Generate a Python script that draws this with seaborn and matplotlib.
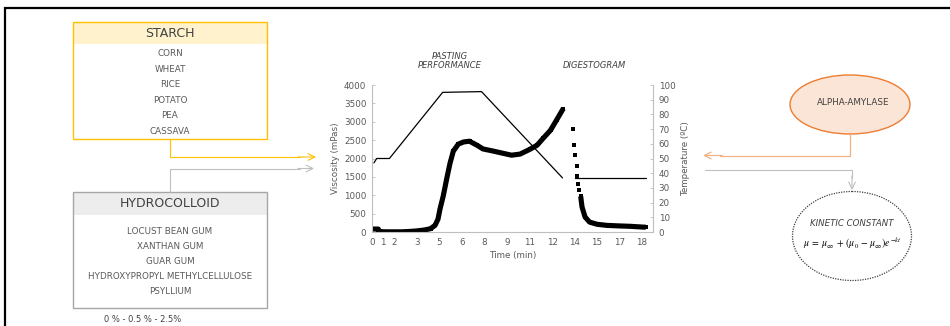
import matplotlib
matplotlib.use("Agg")
import matplotlib.pyplot as plt
from matplotlib.patches import Rectangle, Ellipse
import seaborn as sns

# ---------------- data ----------------
visc_time = [0, 0.35, 0.42, 0.48, 1.0, 2.0, 2.5, 3.0, 3.5, 3.9, 4.2, 4.4, 4.53, 4.76, 4.98,
             5.2, 5.42, 5.75, 6.1, 6.5, 7.0, 7.4, 8.1, 8.75, 9.3, 9.87, 10.5, 11.0, 11.4,
             11.9, 12.3, 12.75]
visc = [80, 80, 80, 10, 5, 5, 15, 30, 55, 90, 180, 350, 620, 1000, 1450,
        1870, 2200, 2390, 2450, 2470, 2360, 2260, 2200, 2140, 2090, 2120, 2245, 2360, 2545,
        2770, 3045, 3360]

dig_time = [13.42, 13.49, 13.56, 13.64, 13.69, 13.76, 13.82, 13.91, 14.0, 14.2, 14.5, 15.0,
            15.65, 16.5, 17.2, 18.0, 18.25]
dig_visc = [2800, 2360, 2090, 1790, 1520, 1300, 1140, 970, 680, 410, 270, 210,
            180, 165, 155, 135, 130]
dig_dense_from = 7

temp_time = [0.13, 0.31, 1.16, 4.71, 7.3, 12.7]
temp = [47, 50, 50, 95, 95.5, 36.8]
dig_temp_time = [13.53, 18.27]
dig_temp = [37, 37]

x_tick_pos = [0, 0.75, 1.5, 3, 4.5, 6, 7.5, 9, 10.5, 12, 13.5, 15, 16.5, 18]
x_tick_labels = ["0", "1", "2", "3", "5", "6", "8", "9", "11", "12", "14", "15", "17", "18"]
y_ticks = [0, 500, 1000, 1500, 2000, 2500, 3000, 3500, 4000]
y2_ticks = [0, 10, 20, 30, 40, 50, 60, 70, 80, 90, 100]

starch_title = "STARCH"
starch_items = ["CORN", "WHEAT", "RICE", "POTATO", "PEA", "CASSAVA"]
hydro_title = "HYDROCOLLOID"
hydro_items = ["LOCUST BEAN GUM", "XANTHAN GUM", "GUAR GUM",
               "HYDROXYPROPYL METHYLCELLULOSE", "PSYLLIUM"]
hydro_caption = "0 % - 0.5 % - 2.5%"

# ---------------- style ----------------
sns.set_theme(style="white")
plt.rcParams["font.family"] = ["DejaVu Sans"]
plt.rcParams["mathtext.fontset"] = "stix"

TXT = "#595959"
DARK = "#404040"
SPINE = "#BFBFBF"

W, H = 950, 326
fig = plt.figure(figsize=(W / 100, H / 100), dpi=100)
fig.patch.set_facecolor("white")

# overlay in pixel coordinates for the diagram parts
ov = fig.add_axes([0, 0, 1, 1])
ov.set_xlim(0, W)
ov.set_ylim(H, 0)
ov.axis("off")
ov.set_facecolor("none")

# outer frame (left and top)
ov.plot([5, 5, 950], [326, 8, 8], color="black", lw=1.6, solid_joinstyle="miter")

# STARCH box
sx0, sx1, sy0, sy1 = 73, 267, 22, 139
ov.add_patch(Rectangle((sx0, sy0), sx1 - sx0, 22, facecolor="#FFF2CC", edgecolor="none"))
ov.add_patch(Rectangle((sx0, sy0), sx1 - sx0, sy1 - sy0, facecolor="none",
                       edgecolor="#FFC000", lw=1.0))
ov.text((sx0 + sx1) / 2, 33.5, starch_title, ha="center", va="center", fontsize=9, color=DARK)
for i, it in enumerate(starch_items):
    ov.text((sx0 + sx1) / 2, 54 + i * 15.4, it, ha="center", va="center",
            fontsize=6.3, color=TXT)
ov.plot([170, 170, 300], [139, 157, 157], color="#FFC000", lw=0.8)
ov.annotate("", xy=(316, 157), xytext=(298, 157),
            arrowprops=dict(arrowstyle="->", color="#FFC000", lw=0.8,
                            shrinkA=0, shrinkB=0))

# HYDROCOLLOID box
hx0, hx1, hy0, hy1 = 73, 267, 192, 308
ov.add_patch(Rectangle((hx0, hy0), hx1 - hx0, 23, facecolor="#EDEDED", edgecolor="none"))
ov.add_patch(Rectangle((hx0, hy0), hx1 - hx0, hy1 - hy0, facecolor="none",
                       edgecolor="#A6A6A6", lw=1.0))
ov.text((hx0 + hx1) / 2, 203.5, hydro_title, ha="center", va="center", fontsize=9, color=DARK)
for i, it in enumerate(hydro_items):
    ov.text((hx0 + hx1) / 2, 231 + i * 15.1, it, ha="center", va="center",
            fontsize=6.3, color=TXT)
ov.text(143, 319.5, hydro_caption, ha="center", va="center", fontsize=6, color=DARK)
ov.plot([170, 170, 300], [192, 168.5, 168.5], color="#BFBFBF", lw=0.8)
ov.annotate("", xy=(314, 168.5), xytext=(298, 168.5),
            arrowprops=dict(arrowstyle="->", color="#BFBFBF", lw=0.8,
                            shrinkA=0, shrinkB=0))

# ALPHA-AMYLASE ellipse
ov.add_patch(Ellipse((850, 104.5), 120, 59, facecolor="#FBE5D6", edgecolor="#ED7D31", lw=1.0))
ov.text(853, 102.5, "ALPHA-AMYLASE", ha="center", va="center", fontsize=6.3, color=DARK)
ov.plot([850, 850, 720], [134, 155.5, 155.5], color="#F4B183", lw=0.9)
ov.annotate("", xy=(703, 155.5), xytext=(722, 155.5),
            arrowprops=dict(arrowstyle="->", color="#F4B183", lw=0.9,
                            shrinkA=0, shrinkB=0))

# gray connector to kinetic constant
ov.plot([705, 852, 852], [170, 170, 178], color="#BFBFBF", lw=0.8)
ov.annotate("", xy=(852, 190), xytext=(852, 176),
            arrowprops=dict(arrowstyle="->", color="#BFBFBF", lw=0.8,
                            shrinkA=0, shrinkB=0))

# KINETIC CONSTANT dotted circle
ov.add_patch(Ellipse((852, 236), 119, 89, facecolor="white", edgecolor="#404040",
                     lw=0.9, linestyle=(0, (1, 1))))
ov.text(852, 224, "KINETIC CONSTANT", ha="center", va="center", fontsize=6.2,
        style="italic", color=DARK)
ov.text(852, 243, r"$\mu\;=\;\mu_{\infty}\,+\,(\mu_0\,-\,\mu_{\infty})e^{-kt}$",
        ha="center", va="center", fontsize=7, color="black")

# chart titles
ov.text(450, 56.5, "PASTING", ha="center", va="center", fontsize=6, style="italic", color=DARK)
ov.text(450, 66, "PERFORMANCE", ha="center", va="center", fontsize=6, style="italic", color=DARK)
ov.text(594, 66, "DIGESTOGRAM", ha="center", va="center", fontsize=6, style="italic", color=DARK)

# ---------------- chart ----------------
ax = fig.add_axes([372 / W, 1 - 232 / H, (653 - 372) / W, (232 - 85) / H])
ax.set_facecolor("none")
ax2 = ax.twinx()

sns.lineplot(x=visc_time, y=visc, ax=ax, color="black", lw=3.7, sort=False,
             estimator=None, solid_capstyle="butt")
sns.scatterplot(x=visc_time, y=visc, ax=ax, color="black", marker="s", s=12,
                linewidth=0)
sns.lineplot(x=dig_time[dig_dense_from:], y=dig_visc[dig_dense_from:], ax=ax,
             color="black", lw=3.7, sort=False, estimator=None, solid_capstyle="butt")
sns.scatterplot(x=dig_time, y=dig_visc, ax=ax, color="black", marker="s", s=12,
                linewidth=0)

sns.lineplot(x=temp_time, y=temp, ax=ax2, color="black", lw=0.9, sort=False, estimator=None)
sns.lineplot(x=dig_temp_time, y=dig_temp, ax=ax2, color="black", lw=0.9, sort=False,
             estimator=None)

ax.set_xlim(0, 18.73)
ax.set_ylim(0, 4000)
ax2.set_ylim(0, 100)
ax.set_xticks(x_tick_pos)
ax.set_xticklabels(x_tick_labels)
ax.set_yticks(y_ticks)
ax.set_yticklabels([str(v) for v in y_ticks])
ax2.set_yticks(y2_ticks)
ax2.set_yticklabels([str(v) for v in y2_ticks])

for a in (ax, ax2):
    a.spines["top"].set_visible(False)
    for side in ("left", "right", "bottom"):
        a.spines[side].set_color(SPINE)
        a.spines[side].set_linewidth(0.8)
    a.tick_params(axis="both", labelsize=6.3, colors=TXT, direction="in", length=2.5,
                  width=0.6, pad=4)
    a.tick_params(axis="both", color=SPINE)
    a.grid(False)
ax.spines["right"].set_visible(False)
ax2.spines["left"].set_visible(False)
ax2.spines["bottom"].set_visible(False)

ax.set_xlabel("Time (min)", fontsize=6.3, color=TXT, labelpad=3)
ax.set_ylabel("Viscosity (mPas)", fontsize=6.3, color=TXT, labelpad=3)
ax2.set_ylabel("Temperature (ºC)", fontsize=6.3, color=TXT, labelpad=4, rotation=90)

fig.savefig("out.png", dpi=100, facecolor="white")
